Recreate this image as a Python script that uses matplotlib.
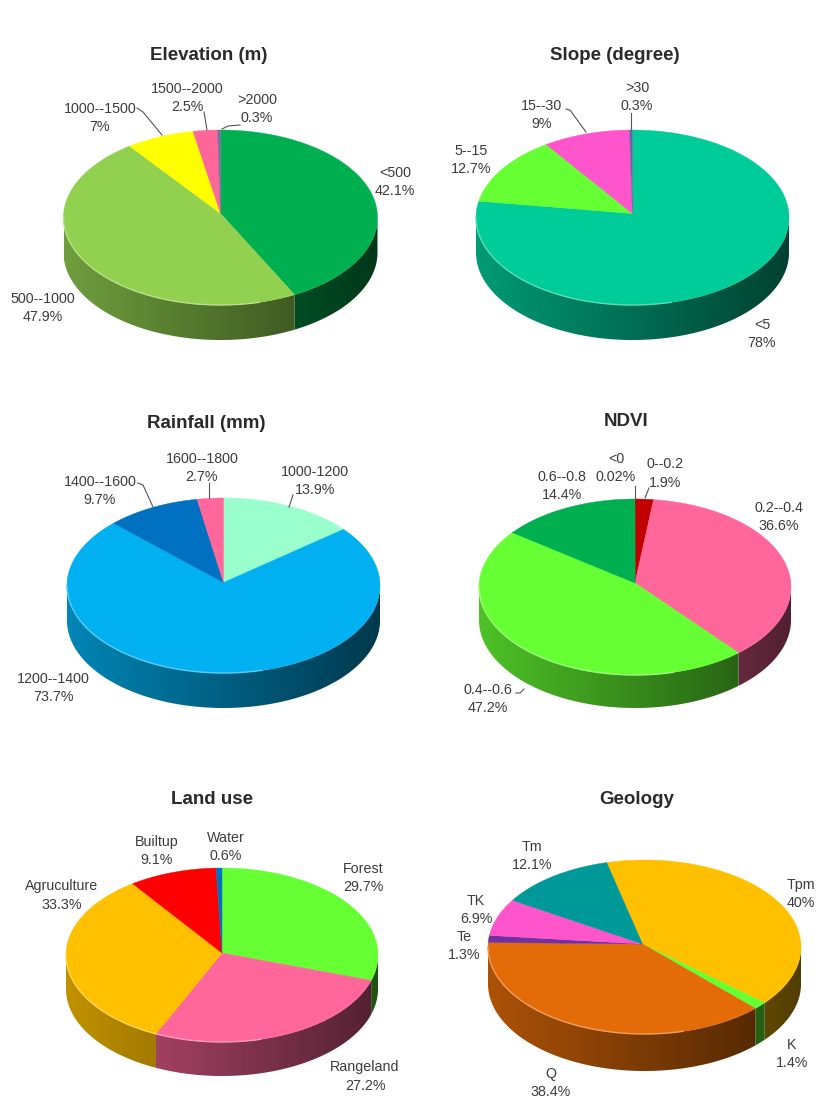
import numpy as np
import matplotlib
matplotlib.use("Agg")
import matplotlib.pyplot as plt
from matplotlib.colors import to_rgb
from matplotlib.patches import Polygon

plt.rcParams["font.family"] = ["Liberation Sans", "DejaVu Sans"]

# =========================================
# DATA
# =========================================

elevation_cats = ["<500", "500--1000", "1000--1500", "1500--2000", ">2000"]
elevation_vals = [42.1, 47.9, 7, 2.5, 0.3]

slope_cats = ["<5", "5--15", "15--30", ">30"]
slope_vals = [78, 12.7, 9, 0.3]

rainfall_cats = ["1000-1200", "1200--1400", "1400--1600", "1600--1800"]
rainfall_vals = [13.9, 73.7, 9.7, 2.7]

ndvi_cats = ["0--0.2", "0.2--0.4", "0.4--0.6", "0.6--0.8", "<0"]
ndvi_vals = [1.9, 36.6, 47.2, 14.4, 0.02]

landuse_cats = ["Forest", "Rangeland", "Agruculture", "Builtup", "Water"]
landuse_vals = [29.7, 27.2, 33.3, 9.1, 0.6]

geology_cats = ["Tpm", "K", "Q", "Te", "TK", "Tm"]
geology_vals = [40, 1.4, 38.4, 1.3, 6.9, 12.1]

# =========================================
# STYLES AND LAYOUT
# =========================================

elevation_colors = ["#00B050", "#92D050", "#FFFF00", "#FF6699", "#7A6FA0"]
slope_colors = ["#00CC99", "#66FF33", "#FF55CC", "#5A6FA0"]
rainfall_colors = ["#99FFCC", "#00B0F0", "#0070C0", "#FF6699"]
ndvi_colors = ["#C00000", "#FF6699", "#66FF33", "#00B050", "#00B050"]
landuse_colors = ["#66FF33", "#FF6699", "#FFC000", "#FF0000", "#0070C0"]
geology_colors = ["#FFC000", "#66FF33", "#E36C09", "#7030A0", "#FF55CC", "#009999"]

TEXT_COLOR = "#3c3c3c"


# =========================================
# 3D PIE
# =========================================

def draw_pie(ax, vals, colors, center, radii, depth, apex_up=3, apex_left=0, start=0):

    cx, cy = center
    rx, ry = radii

    edges = start + np.cumsum([0] + list(vals)) / sum(vals) * 360

    ramp = np.linspace(0.76, 0.32, 256)

    for i, color in enumerate(colors):

        rgb = np.array(to_rgb(color))

        steps = max(int((edges[i + 1] - edges[i]) * 4), 3)
        th = np.radians(np.linspace(edges[i], edges[i + 1], steps))

        x = cx + rx * np.sin(th)
        y = cy - ry * np.cos(th)

        # side wall, only the front half of the rim shows
        front = np.cos(th) <= 0

        if front.sum() > 1:

            wall = Polygon(
                np.c_[
                    np.r_[x[front], x[front][::-1]],
                    np.r_[y[front], y[front][::-1] + depth]
                ],
                transform=ax.transData,
                facecolor="none",
                edgecolor="none"
            )
            ax.add_patch(wall)

            im = ax.imshow(
                ramp[None, :, None] * rgb,
                extent=(cx - rx, cx + rx, cy + ry + depth, cy - ry),
                aspect="auto",
                interpolation="bilinear",
                zorder=2
            )
            im.set_clip_path(wall)

        # top face
        ax.fill(
            np.r_[cx - apex_left, x],
            np.r_[cy - apex_up, y],
            color=color,
            lw=0.3,
            zorder=3
        )

        # light rim along the front left edge of the top face
        lit = front & (np.sin(th) < 0.25)
        if lit.sum() > 1:
            ax.plot(
                x[lit],
                y[lit],
                color=rgb * 0.65 + 0.35,
                lw=1.0,
                zorder=4
            )

    ax.set_xlim(0, 827)
    ax.set_ylim(1099, 0)


def put_labels(ax, cats, vals, positions):

    for cat, val, pos in zip(cats, vals, positions):

        ax.text(
            pos[0],
            pos[1] + 1,
            f"{cat}\n{val:g}%",
            ha="center",
            va="center",
            fontsize=10.3,
            linespacing=1.42,
            color=TEXT_COLOR,
            zorder=6
        )


def put_leaders(ax, leaders):

    for xs, ys in leaders:

        ax.plot(xs, ys, color="#555555", lw=0.8, zorder=5)


def put_title(ax, title, pos):

    ax.text(
        pos[0],
        pos[1] + 1,
        title,
        ha="center",
        va="center",
        fontsize=13.5,
        fontweight="bold",
        color="#2a2a2a"
    )


fig = plt.figure(figsize=(8.27, 10.99), dpi=100)

# whole figure axes, measured in pixels from the top left
ax = fig.add_axes([0, 0, 1, 1])
ax.set_xlim(0, 827)
ax.set_ylim(1099, 0)
ax.axis("off")

# =========================================
# ELEVATION
# =========================================

draw_pie(ax, elevation_vals, elevation_colors, (220.5, 217.5), (157, 87.5), 35, 4)
put_title(ax, "Elevation (m)", (209, 55))
put_labels(ax, elevation_cats, elevation_vals, [
    (395, 181), (43, 307), (100, 117), (187, 97), (257, 108)
])
put_leaders(ax, [
    ([137, 143, 162], [108, 112, 135]),
    ([204, 207], [112, 130]),
    ([240, 228, 222], [125, 126, 129])
])

# =========================================
# SLOPE
# =========================================

draw_pie(ax, slope_vals, slope_colors, (632.5, 217.5), (156.5, 87.5), 35, 4)
put_title(ax, "Slope (degree)", (615, 54))
put_labels(ax, slope_cats, slope_vals, [
    (762, 333), (471, 159), (542, 114), (637, 96)
])
put_leaders(ax, [
    ([566, 570, 586], [109, 110, 132]),
    ([631, 631], [113, 130])
])

# =========================================
# RAINFALL
# =========================================

draw_pie(ax, rainfall_vals, rainfall_colors, (223.5, 585.5), (156.5, 87.5), 35, 3)
put_title(ax, "Rainfall (mm)", (206, 422))
put_labels(ax, rainfall_cats, rainfall_vals, [
    (315, 480), (53, 687), (100, 490), (202, 467)
])
put_leaders(ax, [
    ([293, 289], [495, 507]),
    ([138, 143, 153], [483, 485, 507]),
    ([209, 209], [483, 498])
])

# =========================================
# NDVI
# =========================================

draw_pie(ax, ndvi_vals, ndvi_colors, (635, 587), (156, 88), 33, 4)
put_title(ax, "NDVI", (626, 420))
put_labels(ax, ndvi_cats, ndvi_vals, [
    (665, 472.5), (779, 516), (488, 698), (562, 485), (616, 467)
])
put_leaders(ax, [
    ([649, 645], [488, 498]),
    ([516, 520, 524], [693, 693, 689]),
    ([635, 635], [486, 499])
])

# =========================================
# LAND USE
# =========================================

draw_pie(ax, landuse_vals, landuse_colors, (222, 955), (156, 87), 34, 2)
put_title(ax, "Land use", (212, 798))
put_labels(ax, landuse_cats, landuse_vals, [
    (363, 877), (365, 1075.5), (62, 894.5), (157, 850), (226, 846)
])

# =========================================
# GEOLOGY
# =========================================

draw_pie(ax, geology_vals, geology_colors, (644.5, 947), (156.5, 87), 37, 3, apex_left=2, start=-14)
put_title(ax, "Geology", (637, 798))
put_labels(ax, geology_cats, geology_vals, [
    (801, 893), (792, 1053), (551, 1082), (464, 945), (476, 909), (532, 855)
])

fig.savefig("out.png", dpi=100)
plt.close(fig)
